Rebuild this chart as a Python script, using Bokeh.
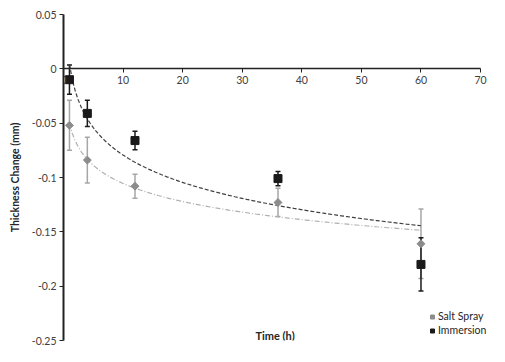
import numpy as np
from bokeh.plotting import figure
from bokeh.models import (ColumnDataSource, Whisker, TeeHead, Legend, LegendItem,
                          Label, Range1d, FixedTicker, CustomJSTickFormatter)
from bokeh.embed import file_html
from bokeh.resources import INLINE

# ---- data ----
time_h = [1, 4, 12, 36, 60]
salt_spray = [-0.052, -0.084, -0.108, -0.123, -0.161]
salt_spray_err = [0.023, 0.021, 0.011, 0.013, 0.032]
immersion = [-0.010, -0.041, -0.066, -0.101, -0.180]
immersion_err = [0.0135, 0.012, 0.0085, 0.0065, 0.0245]
x_ticks = [0, 10, 20, 30, 40, 50, 60, 70]
y_ticks = [0.05, 0, -0.05, -0.1, -0.15, -0.2, -0.25]

FONT = "Lato"

p = figure(width=489, height=346, output_backend="svg", toolbar_location=None,
           x_range=Range1d(0, 71.5), y_range=Range1d(-0.25, 0.05),
           min_border_left=63, min_border_right=0, min_border_top=14,
           min_border_bottom=6)
p.grid.visible = False
p.outline_line_color = None
p.background_fill_color = "white"

# x axis crossing at y = 0
xa = p.xaxis[0]
xa.fixed_location = 0
xa.bounds = (0, 70)
xa.ticker = FixedTicker(ticks=x_ticks)
xa.axis_line_width = 1.5
xa.axis_line_color = "#222222"
xa.major_tick_in = 0
xa.major_tick_out = 4
xa.major_tick_line_color = "#222222"
xa.minor_tick_line_color = None
xa.major_label_text_font = FONT
xa.major_label_text_font_size = "10.5px"
xa.major_label_text_color = "#404040"
xa.major_label_standoff = 3

ya = p.yaxis[0]
ya.ticker = FixedTicker(ticks=y_ticks)
ya.formatter = CustomJSTickFormatter(code="return (Math.round(tick*100)/100).toString();")
ya.axis_line_width = 2
ya.axis_line_color = "#222222"
ya.major_tick_in = 0
ya.major_tick_out = 4
ya.major_tick_line_color = "#222222"
ya.minor_tick_line_color = None
ya.major_label_text_font = FONT
ya.major_label_text_font_size = "10.5px"
ya.major_label_text_color = "#404040"
ya.major_label_standoff = 3
ya.axis_label = "Thickness Change (mm)"
ya.axis_label_text_font = FONT
ya.axis_label_text_font_style = "bold"
ya.axis_label_text_font_size = "10.5px"
ya.axis_label_text_color = "#262626"
ya.axis_label_standoff = 8

# ---- logarithmic trendlines (least squares on ln t, as a spreadsheet trendline) ----
tt = np.linspace(1, 60, 120)
a_s, b_s = np.polyfit(np.log(time_h), salt_spray, 1)
a_i, b_i = np.polyfit(np.log(time_h), immersion, 1)
p.line(tt, a_s * np.log(tt) + b_s, line_color="#b0b0b0", line_width=1.2,
       line_dash="5 2 1 2")
p.line(tt, a_i * np.log(tt) + b_i, line_color="#404040", line_width=1.2,
       line_dash="4 2")

# ---- error bars ----
src_s = ColumnDataSource(dict(t=time_h, y=salt_spray,
                              lo=[v - e for v, e in zip(salt_spray, salt_spray_err)],
                              hi=[v + e for v, e in zip(salt_spray, salt_spray_err)]))
src_i = ColumnDataSource(dict(t=time_h, y=immersion,
                              lo=[v - e for v, e in zip(immersion, immersion_err)],
                              hi=[v + e for v, e in zip(immersion, immersion_err)]))
for src, col in ((src_s, "#a6a6a6"), (src_i, "#1a1a1a")):
    w = Whisker(source=src, base="t", upper="hi", lower="lo", dimension="height",
                line_color=col, line_width=1.5,
                upper_head=TeeHead(size=5, line_color=col, line_width=1.5),
                lower_head=TeeHead(size=5, line_color=col, line_width=1.5))
    p.add_layout(w)

# ---- markers ----
r_s = p.scatter("t", "y", source=src_s, marker="square", angle=np.pi / 4, size=5.6,
                fill_color="#8c8c8c", line_color="#8c8c8c")
r_i = p.scatter("t", "y", source=src_i, marker="square", size=8,
                fill_color="#1a1a1a", line_color="#1a1a1a")

legend = Legend(items=[LegendItem(label="Salt Spray", renderers=[r_s]),
                       LegendItem(label="Immersion", renderers=[r_i])],
                location=(364, 4), orientation="vertical",
                background_fill_alpha=0, border_line_color=None,
                label_text_font=FONT, label_text_font_size="10.5px",
                label_text_color="#262626", glyph_width=10, glyph_height=11,
                label_standoff=1, spacing=2, padding=0, margin=0,
                label_height=11)
p.add_layout(legend, "center")

p.add_layout(Label(x=192, y=-1, x_units="screen", y_units="screen",
                   text="Time (h)", text_font=FONT, text_font_style="bold",
                   text_font_size="11px", text_color="#262626"))

open("out.html", "w").write(file_html(p, INLINE))
